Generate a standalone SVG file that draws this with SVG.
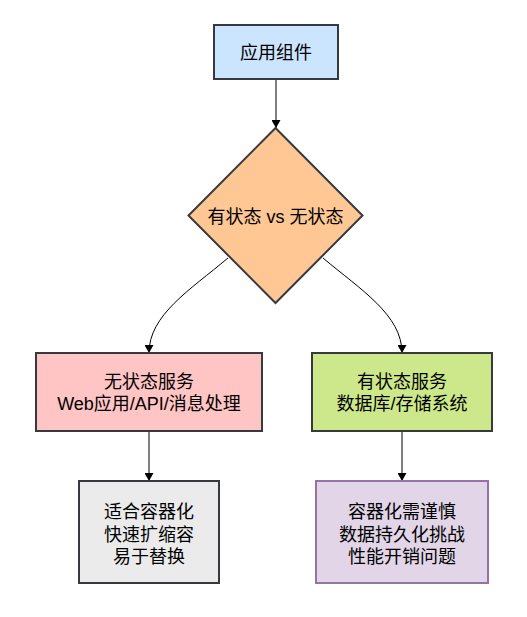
<svg xmlns="http://www.w3.org/2000/svg" width="527" height="617" viewBox="0 0 527 617">
<style>
.n{stroke:#36393d;stroke-width:2}
.t{font-family:"Liberation Sans","Noto Sans CJK SC",sans-serif;font-size:18px;fill:#000;text-anchor:middle}
.c{fill:none;stroke:#000;stroke-width:1}
</style>
<defs>
<marker id="ah" markerWidth="8" markerHeight="9" refX="8" refY="4.5" orient="auto" markerUnits="userSpaceOnUse">
<path d="M0,0 L8,4.5 L0,9 Z" fill="#000"/>
</marker>
</defs>
<rect width="527" height="617" fill="#fff"/>
<g id="connectors">
<path class="c" d="M276,79 L276,128" marker-end="url(#ah)"/>
<path class="c" d="M228,258 C190,290 149,315 149,353" marker-end="url(#ah)"/>
<path class="c" d="M323,258 C361,290 402,315 402,353" marker-end="url(#ah)"/>
<path class="c" d="M149,431 L149,481" marker-end="url(#ah)"/>
<path class="c" d="M402,431 L402,481" marker-end="url(#ah)"/>
</g>
<g id="app">
<rect class="n" x="214" y="25" width="124" height="54" fill="#cce5ff"/>
<text class="t" x="276" y="59">应用组件</text>
</g>
<g id="decision">
<polygon class="n" points="275.5,128 362.5,215.5 275.5,303 188.5,215.5" fill="#ffc794"/>
<text class="t" x="275.5" y="223">有状态 vs 无状态</text>
</g>
<g id="stateless">
<rect class="n" x="36" y="353" width="226" height="78" fill="#ffc4c4"/>
<text class="t" x="149" y="388">无状态服务</text>
<text class="t" x="149" y="410">Web应用/API/消息处理</text>
</g>
<g id="stateful">
<rect class="n" x="312" y="353" width="180" height="78" fill="#cde88a"/>
<text class="t" x="402" y="388">有状态服务</text>
<text class="t" x="402" y="410">数据库/存储系统</text>
</g>
<g id="stateless-notes">
<rect class="n" x="79" y="481" width="140" height="102" fill="#ebebeb"/>
<text class="t" x="149" y="518">适合容器化</text>
<text class="t" x="149" y="541">快速扩缩容</text>
<text class="t" x="149" y="563">易于替换</text>
</g>
<g id="stateful-notes">
<rect x="316" y="481" width="172" height="102" fill="#e1d5e7" stroke="#9673a6" stroke-width="2"/>
<text class="t" x="402" y="518">容器化需谨慎</text>
<text class="t" x="402" y="541">数据持久化挑战</text>
<text class="t" x="402" y="563">性能开销问题</text>
</g>
</svg>
